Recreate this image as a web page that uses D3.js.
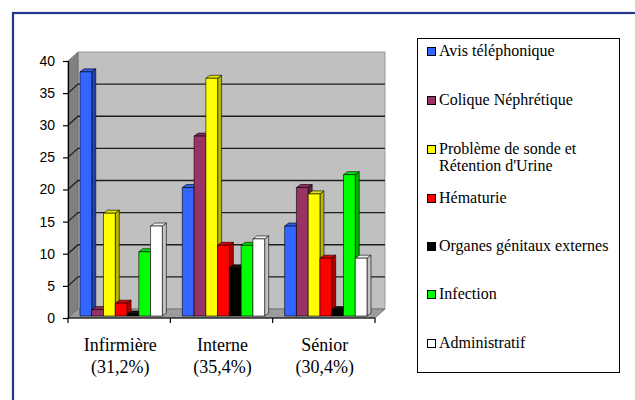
<!DOCTYPE html>
<html>
<head>
<meta charset="utf-8">
<script src="https://cdn.jsdelivr.net/npm/d3@7/dist/d3.min.js"></script>
<style>
  html, body { margin: 0; padding: 0; background: #fff; }
  svg { display: block; }
</style>
</head>
<body>
<script>
// Appels par catégorie d'intervenant
const categories = ["Infirmière", "Interne", "Sénior"];
const categoryShares = ["(31,2%)", "(35,4%)", "(30,4%)"];

const seriesNames = [
  "Avis téléphonique",
  "Colique Néphrétique",
  "Problème de sonde et|Rétention d'Urine",
  "Hématurie",
  "Organes génitaux externes",
  "Infection",
  "Administratif"
];
const avisTelephonique = [38, 20, 14];
const coliqueNephretique = [1, 28, 20];
const sondeRetention = [16, 37, 19];
const hematurie = [2, 11, 9];
const organesGenitaux = [0.3, 7.5, 1];
const infection = [10, 11, 22];
const administratif = [14, 12, 9];
const yTicks = [0, 5, 10, 15, 20, 25, 30, 35, 40];

const seriesValues = [avisTelephonique, coliqueNephretique, sondeRetention,
  hematurie, organesGenitaux, infection, administratif];

// face colours: front, side, top
const palette = [
  ["#3366ff", "#2343b0", "#2f5de8"],
  ["#993366", "#6a2246", "#8a2d5b"],
  ["#ffff00", "#b8b800", "#e6e600"],
  ["#ff0000", "#b00000", "#e00000"],
  ["#000000", "#000000", "#111111"],
  ["#00ff00", "#00b000", "#00e000"],
  ["#ffffff", "#c4c4c4", "#eeeeee"]
];

const SERIF = '"Liberation Serif"';
const SANS = '"Liberation Sans"';

const W = 635, H = 400;
const svg = d3.select("body").append("svg").attr("width", W).attr("height", H);

// outer frame
svg.append("rect").attr("x", 13).attr("y", 13).attr("width", 640).attr("height", 400)
  .attr("fill", "none").attr("stroke", "#27358c").attr("stroke-width", 2.2);

// 3D plot geometry
const left = 68, right = 375, depthX = 10, depthY = -9;
const y = d3.scaleLinear().domain([0, 40]).range([318, 61]);
const x0 = d3.scaleBand().domain(categories).range([left, right]).padding(0);
const x1 = d3.scaleBand().domain(d3.range(seriesNames.length))
  .range([10, x0.bandwidth() - 10]).padding(0);

const pts = a => a.map(p => p.join(",")).join(" ");

// back wall
svg.append("polygon")
  .attr("points", pts([[left + depthX, y(40) + depthY], [right + depthX, y(40) + depthY],
    [right + depthX, y(0) + depthY], [left + depthX, y(0) + depthY]]))
  .attr("fill", "#c0c0c0").attr("stroke", "#8a8a8a").attr("stroke-width", 0.8);
// side wall
svg.append("polygon")
  .attr("points", pts([[left, y(40)], [left + depthX, y(40) + depthY],
    [left + depthX, y(0) + depthY], [left, y(0)]]))
  .attr("fill", "#808080").attr("stroke", "#6a6a6a").attr("stroke-width", 0.8);
// floor
svg.append("polygon")
  .attr("points", pts([[left, y(0)], [left + depthX, y(0) + depthY],
    [right + depthX, y(0) + depthY], [right, y(0)]]))
  .attr("fill", "#9c9c9c").attr("stroke", "#6a6a6a").attr("stroke-width", 0.8);

// gridlines on walls
const grid = svg.append("g").attr("stroke", "#1e1e1e").attr("stroke-width", 1.3).attr("fill", "none");
yTicks.filter(v => v > 0 && v < 40).forEach(v => {
  grid.append("polyline").attr("points", pts([[left, y(v)], [left + depthX, y(v) + depthY],
    [right + depthX, y(v) + depthY]]));
});

// bars
const barDX = 2, barDY = -2, sideW = 4, topH = 3;
const bars = svg.append("g").attr("stroke", "#000").attr("stroke-width", 0.6).attr("stroke-linejoin", "round");
categories.forEach((c, ci) => {
  seriesValues.forEach((vals, si) => {
    const v = vals[ci];
    const xl = x0(c) + x1(si) + barDX;
    const xr = xl + x1.bandwidth();
    const yb = y(0) + barDY;
    const yt = y(v) + barDY;
    const g = bars.append("g");
    g.append("polygon").attr("points", pts([[xr, yt], [xr + sideW, yt - topH], [xr + sideW, yb - topH], [xr, yb]]))
      .attr("fill", palette[si][1]);
    g.append("polygon").attr("points", pts([[xl, yt], [xl + sideW, yt - topH], [xr + sideW, yt - topH], [xr, yt]]))
      .attr("fill", palette[si][2]);
    g.append("rect").attr("x", xl).attr("y", yt).attr("width", xr - xl).attr("height", yb - yt)
      .attr("fill", palette[si][0]);
  });
});

// y axis
const yAxis = d3.axisLeft(y).tickValues(yTicks).tickSize(5).tickPadding(8).tickFormat(d3.format("d"));
const ya = svg.append("g").attr("transform", `translate(${left},0)`).call(yAxis);
ya.select(".domain").attr("stroke", "#000").attr("stroke-width", 1.2);
ya.selectAll(".tick line").attr("stroke", "#000").attr("stroke-width", 1.2);
ya.selectAll(".tick text").style("font-family", SANS)
  .style("font-size", "14px").attr("fill", "#000");

// x axis
const xa = svg.append("g").attr("transform", `translate(0,${y(0)})`);
xa.append("line").attr("x1", left).attr("x2", right).attr("stroke", "#000").attr("stroke-width", 1.2);
const edges = categories.map(c => x0(c)).concat([right]);
xa.selectAll("line.tk").data(edges).join("line").attr("class", "tk")
  .attr("x1", d => d).attr("x2", d => d).attr("y1", 0).attr("y2", 5)
  .attr("stroke", "#000").attr("stroke-width", 1.2);
categories.forEach((c, i) => {
  const t = svg.append("text").attr("text-anchor", "middle")
    .style("font-family", SERIF).style("font-size", "18px").attr("fill", "#000");
  const cx = x0(c) + x0.bandwidth() / 2 + 1;
  t.append("tspan").attr("x", cx).attr("y", 351).text(c);
  t.append("tspan").attr("x", cx).attr("y", 373).text(categoryShares[i]);
});

// legend
const lg = svg.append("g");
lg.append("rect").attr("x", 417.5).attr("y", 38.5).attr("width", 202).attr("height", 334)
  .attr("fill", "#fff").attr("stroke", "#000").attr("stroke-width", 1);
const baselines = [56, 105, 154, 203, 251, 299, 348];
seriesNames.forEach((name, i) => {
  const b = baselines[i];
  lg.append("rect").attr("x", 427.5).attr("y", b - 8.5).attr("width", 8).attr("height", 8)
    .attr("fill", palette[i][0]).attr("stroke", "#000").attr("stroke-width", 1);
  const t = lg.append("text").style("font-family", SERIF).style("font-size", "16px").attr("fill", "#000");
  name.split("|").forEach((line, k) => {
    t.append("tspan").attr("x", 439).attr("y", b + k * 17).text(line);
  });
});
</script>
</body>
</html>
